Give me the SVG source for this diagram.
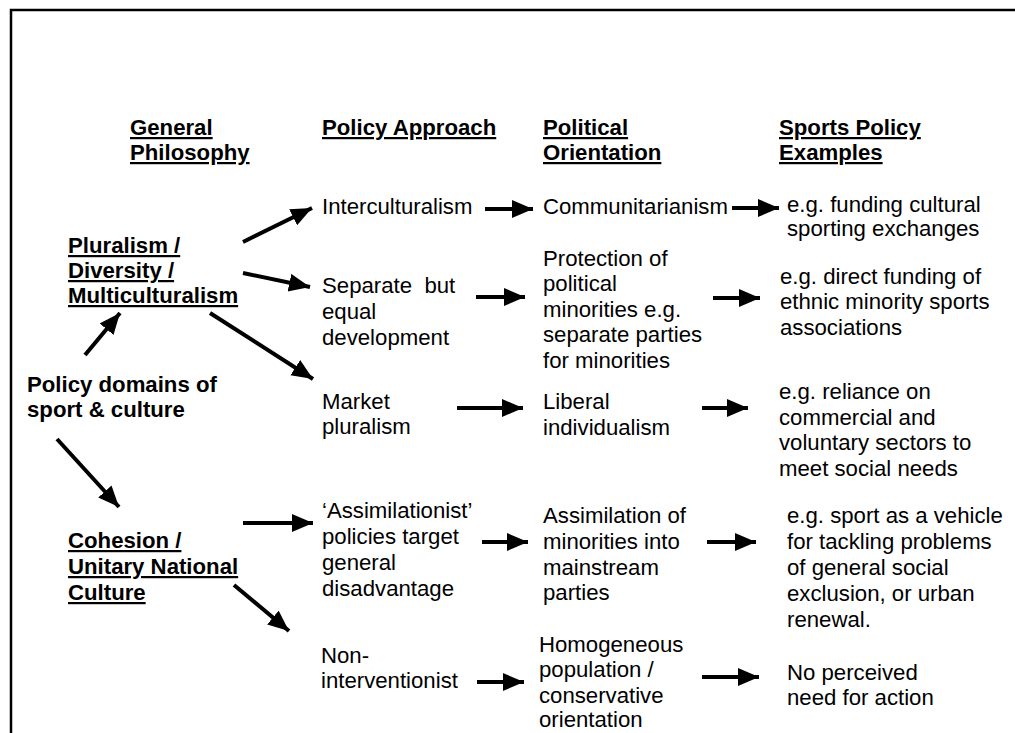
<svg xmlns="http://www.w3.org/2000/svg" width="1015" height="733" viewBox="0 0 1015 733">
<style>
text{font-family:"Liberation Sans",Arial,sans-serif;font-size:22.2px;fill:#000;white-space:pre}
.b{font-weight:bold}
.u{text-decoration:underline;text-decoration-thickness:2px}
.c line{stroke:#000;stroke-width:4;marker-end:url(#ah)}
</style>
<defs>
<marker id="ah" markerUnits="userSpaceOnUse" markerWidth="24" markerHeight="20" refX="21" refY="9" orient="auto" viewBox="0 0 24 20">
<path d="M0,0 L21,9 L0,18 Z" fill="#000"/>
</marker>
</defs>
<rect width="1015" height="733" fill="#fff"/>
<path d="M11,733 V10 H1015" fill="none" stroke="#000" stroke-width="2.5"/>
<g id="headers">
<text class="b u" x="130" y="135">General</text>
<text class="b u" x="130" y="160">Philosophy</text>
<text class="b u" x="322" y="135">Policy Approach</text>
<text class="b u" x="543" y="135">Political</text>
<text class="b u" x="543" y="160">Orientation</text>
<text class="b u" x="779" y="135">Sports Policy</text>
<text class="b u" x="779" y="160">Examples</text>
</g>
<g id="pluralism"><text class="b u" x="68" y="253">Pluralism /</text><text class="b u" x="68" y="278">Diversity /</text><text class="b u" x="68" y="303">Multiculturalism</text></g>
<g id="domains"><text class="b" x="27" y="392">Policy domains of</text><text class="b" x="27" y="417">sport &amp; culture</text></g>
<g id="cohesion"><text class="b u" x="68" y="548">Cohesion /</text><text class="b u" x="68" y="574">Unitary National</text><text class="b u" x="68" y="600">Culture</text></g>
<g id="intercult"><text x="322" y="214">Interculturalism</text></g>
<g id="separate"><text x="322" y="293">Separate  but</text><text x="322" y="319">equal</text><text x="322" y="345">development</text></g>
<g id="market"><text x="322" y="409">Market</text><text x="322" y="434">pluralism</text></g>
<g id="assimpol"><text x="322" y="518">‘Assimilationist’</text><text x="322" y="544">policies target</text><text x="322" y="570">general</text><text x="322" y="596">disadvantage</text></g>
<g id="nonint"><text x="321" y="663">Non-</text><text x="321" y="688">interventionist</text></g>
<g id="communit"><text x="543" y="214">Communitarianism</text></g>
<g id="protection"><text x="543" y="266">Protection of</text><text x="543" y="291">political</text><text x="543" y="317">minorities e.g.</text><text x="543" y="342">separate parties</text><text x="543" y="368">for minorities</text></g>
<g id="liberal"><text x="543" y="409">Liberal</text><text x="543" y="435">individualism</text></g>
<g id="assimil"><text x="543" y="523">Assimilation of</text><text x="543" y="549">minorities into</text><text x="543" y="575">mainstream</text><text x="543" y="600">parties</text></g>
<g id="homog"><text x="539" y="652">Homogeneous</text><text x="539" y="677">population /</text><text x="539" y="703">conservative</text><text x="539" y="727">orientation</text></g>
<g id="ex1"><text x="787" y="212">e.g. funding cultural</text><text x="787" y="236">sporting exchanges</text></g>
<g id="ex2"><text x="780" y="284">e.g. direct funding of</text><text x="780" y="309">ethnic minority sports</text><text x="780" y="335">associations</text></g>
<g id="ex3"><text x="779" y="399">e.g. reliance on</text><text x="779" y="425">commercial and</text><text x="779" y="450">voluntary sectors to</text><text x="779" y="476">meet social needs</text></g>
<g id="ex4"><text x="787" y="523">e.g. sport as a vehicle</text><text x="787" y="549">for tackling problems</text><text x="787" y="575">of general social</text><text x="787" y="601">exclusion, or urban</text><text x="787" y="627">renewal.</text></g>
<g id="ex5"><text x="787" y="680">No perceived</text><text x="787" y="705">need for action</text></g>
<g id="connectors" class="c">
<line x1="243" y1="242" x2="312" y2="208"/>
<line x1="243" y1="273" x2="310" y2="287"/>
<line x1="210" y1="313" x2="313" y2="379"/>
<line x1="85" y1="355" x2="120" y2="313"/>
<line x1="57" y1="439" x2="119" y2="507"/>
<line x1="243" y1="523" x2="313" y2="523"/>
<line x1="234" y1="585" x2="289" y2="631"/>
<line x1="485" y1="209" x2="533" y2="209"/>
<line x1="476" y1="297" x2="525" y2="297"/>
<line x1="457" y1="408" x2="523" y2="408"/>
<line x1="482" y1="542" x2="528" y2="542"/>
<line x1="477" y1="682" x2="524" y2="682"/>
<line x1="732" y1="208" x2="779" y2="208"/>
<line x1="713" y1="298" x2="760" y2="298"/>
<line x1="702" y1="408" x2="748" y2="408"/>
<line x1="707" y1="542" x2="756" y2="542"/>
<line x1="702" y1="677" x2="759" y2="677"/>
</g>
</svg>
